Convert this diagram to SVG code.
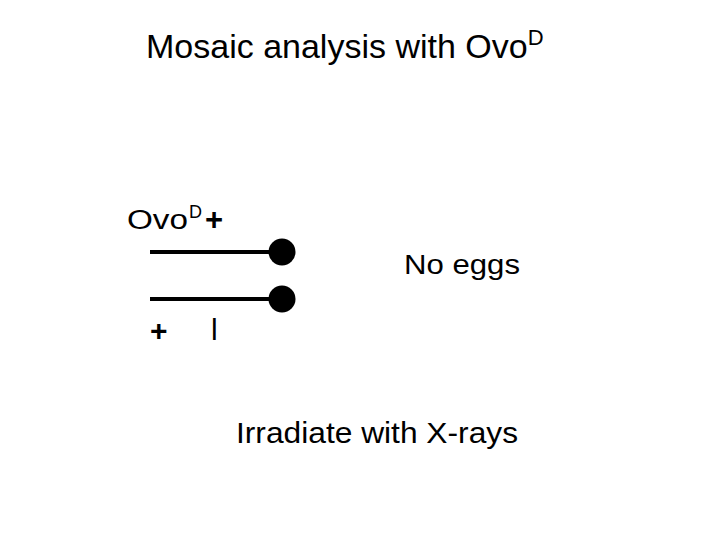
<svg xmlns="http://www.w3.org/2000/svg" width="720" height="540" viewBox="0 0 720 540">
<style>
text{font-family:"Liberation Sans",Arial,sans-serif;fill:#000}
.ln{stroke:#000;stroke-width:4}
</style>
<rect width="720" height="540" fill="#fff"/>
<text x="146" y="58" font-size="34">Mosaic analysis with Ovo<tspan font-size="22" dy="-13">D</tspan></text>
<g id="chrom1">
<line class="ln" x1="150" y1="252" x2="282" y2="252"/>
<circle cx="282" cy="252" r="13.5"/>
</g>
<g id="chrom2">
<line class="ln" x1="150" y1="299" x2="282" y2="299"/>
<circle cx="282" cy="299" r="13.5"/>
</g>
<g id="label-top">
<text x="127" y="229" font-size="27" textLength="61" lengthAdjust="spacingAndGlyphs">Ovo</text>
<text x="189" y="218" font-size="18">D</text>
<text x="205" y="230" font-size="31" font-weight="bold">+</text>
</g>
<g id="label-bottom">
<text x="150" y="341" font-size="30" font-weight="bold">+</text>
<text x="211" y="340" font-size="30">l</text>
</g>
<text x="404" y="274" font-size="28" textLength="116" lengthAdjust="spacingAndGlyphs">No eggs</text>
<text x="236" y="443" font-size="29" textLength="282" lengthAdjust="spacingAndGlyphs">Irradiate with X-rays</text>
</svg>
